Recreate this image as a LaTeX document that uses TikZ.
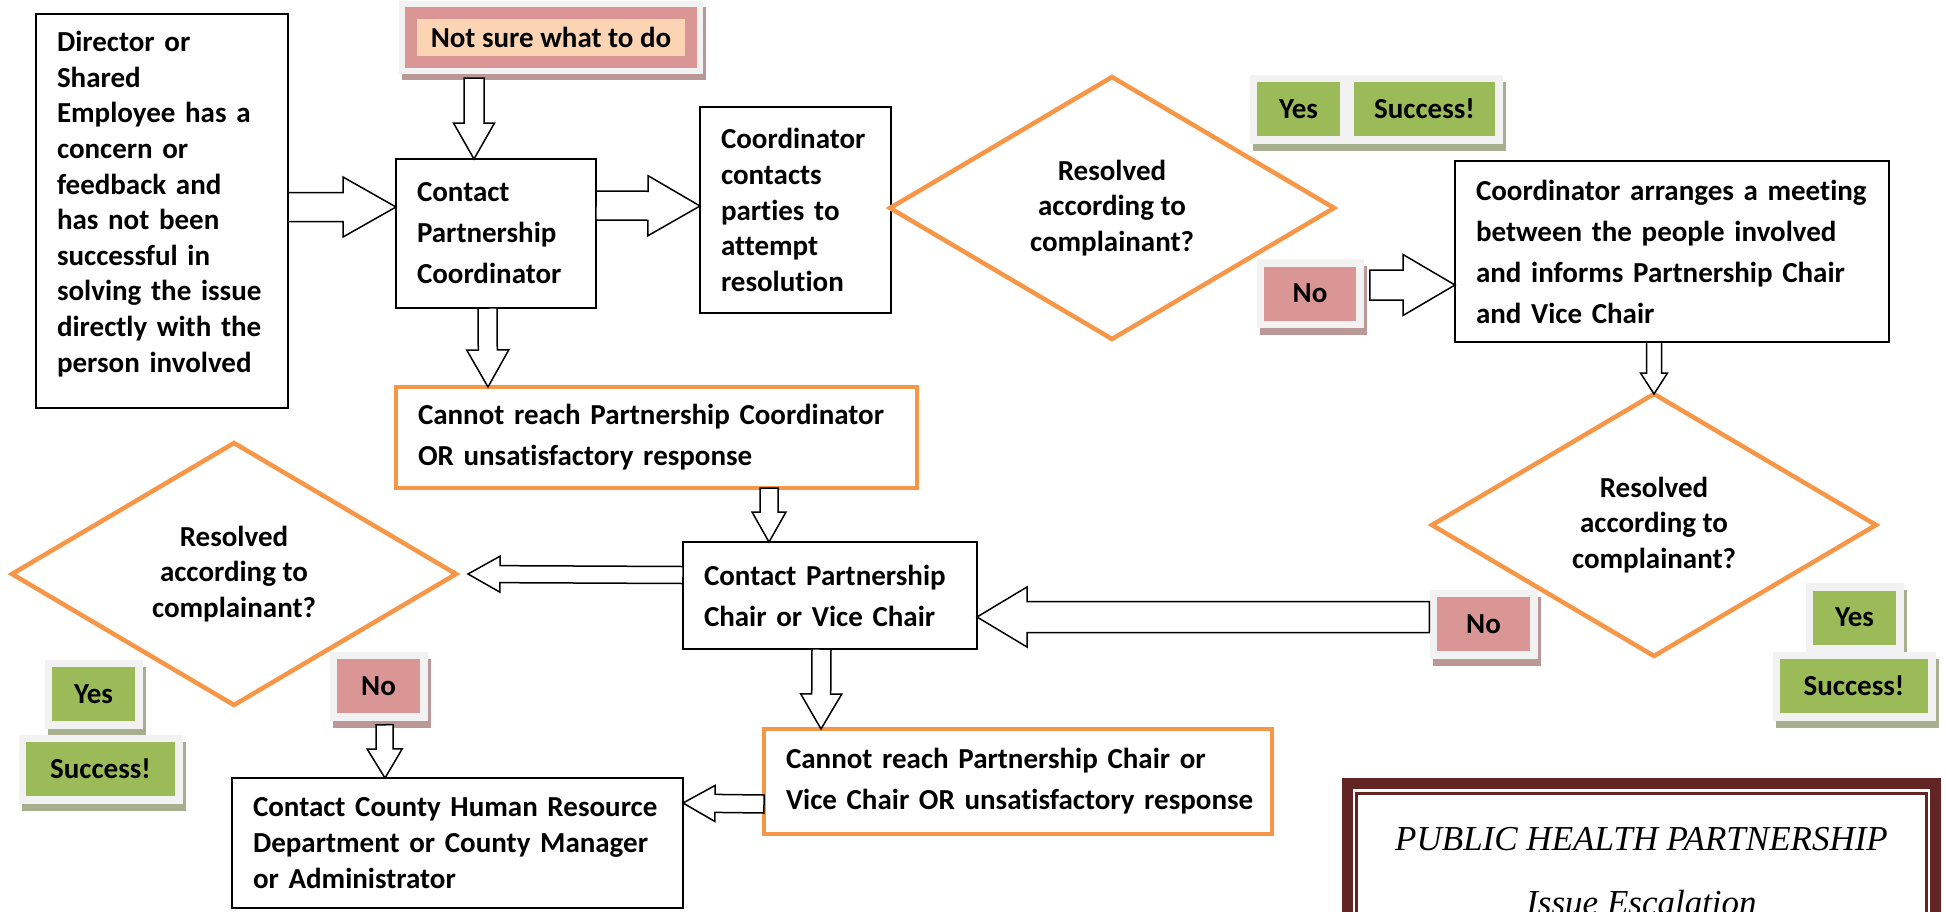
\documentclass[tikz,border=0pt]{standalone}
\usepackage{fontspec}
\setmainfont{Carlito}[Ligatures=NoCommon]
\newfontfamily\titlefont{Liberation Serif}
\usetikzlibrary{shapes.geometric}
\usetikzlibrary{shadows}
\usetikzlibrary{positioning}
\usetikzlibrary{calc}

\definecolor{okgreen}{HTML}{9BBB59}
\definecolor{nopink}{HTML}{D99694}
\definecolor{peach}{HTML}{FBD4B4}
\definecolor{framegray}{HTML}{F2F2F2}
\definecolor{greenshadow}{HTML}{A7AF8E}
\definecolor{pinkshadow}{HTML}{BA9898}
\definecolor{orangeline}{HTML}{F79646}
\definecolor{maroon}{HTML}{632523}

\newcommand{\flowfont}{\fontsize{29}{35.6}\selectfont\bfseries}
\newcommand{\flowfontwide}{\fontsize{29}{41}\selectfont\bfseries}

% hollow block arrow: start, tip, shaft half width, head half width, head length
\newcommand{\blockarrow}[5]{%
  \coordinate (ba-s) at (#1);
  \coordinate (ba-t) at (#2);
  \coordinate (ba-h) at ($(ba-t)!#5!(ba-s)$);
  \draw[block arrow] ($(ba-s)!#3!90:(ba-t)$) -- ($(ba-h)!#3!90:(ba-t)$)
    -- ($(ba-h)!#4!90:(ba-t)$) -- (ba-t) -- ($(ba-h)!#4!-90:(ba-t)$)
    -- ($(ba-h)!#3!-90:(ba-t)$) -- ($(ba-s)!#3!-90:(ba-t)$) -- cycle;}

\begin{document}
\begin{tikzpicture}[x=1pt,y=-1pt,
	step node/.style={draw, line width=2pt, outer sep=0pt, inner xsep=21pt, inner ysep=0pt, align=left, font=\flowfont},
	wide/.style={font=\flowfontwide},
	warn node/.style={step node, draw=orangeline, line width=4.5pt, inner xsep=22pt},
	decision/.style={diamond, draw=orangeline, line width=4.5pt, outer sep=0pt, inner sep=0pt, aspect=1.7,
		minimum width=444pt, minimum height=262pt, align=center, font=\flowfont},
	label box/.style={draw=framegray, line width=7.5pt, outer sep=0pt, inner sep=0pt, minimum height=61.5pt, font=\flowfont},
	yes box/.style={label box, fill=okgreen, drop shadow={shadow xshift=3pt, shadow yshift=-7pt, opacity=1,
		fill=greenshadow, draw=greenshadow, line width=7.5pt}},
	no box/.style={label box, fill=nopink, drop shadow={shadow xshift=3pt, shadow yshift=-7pt, opacity=1,
		fill=pinkshadow, draw=pinkshadow, line width=7.5pt}},
	unsure box/.style={draw=nopink, line width=12pt, fill=peach, outer sep=0pt, inner sep=0pt,
		minimum width=280pt, minimum height=49pt, font=\flowfont,
		drop shadow={shadow xshift=3pt, shadow yshift=-6pt, opacity=1, fill=pinkshadow, draw=pinkshadow, line width=24pt},
		preaction={draw=framegray, line width=24pt}},
	title frame/.style={draw=maroon, line width=11pt, outer sep=0pt, minimum width=588pt, minimum height=173pt},
	title text/.style={font=\titlefont\itshape\fontsize{35}{42}\selectfont, inner sep=0pt},
	block arrow/.style={draw=black, fill=white, line width=1.5pt, line join=miter}]

	\useasboundingbox (0,0) rectangle (1946,911);

	\node[step node, text width=210pt, minimum height=394pt] (dir) at (162,211)
		{Director or\\Shared\\Employee has a\\concern or\\feedback and\\has not been\\successful in\\solving the issue\\directly with the\\person involved\\[-17pt]\mbox{}};
	\node[unsure box] (unsure) at (551,37.5) {Not sure what to do};
	\node[step node, wide, text width=158pt, minimum height=149pt] (contact) at (496,233.5)
		{Contact\\Partnership\\Coordinator};
	\node[step node, text width=149pt, minimum height=206pt] (attempt) at (795.5,210)
		{\mbox{Coordinator}\\contacts\\parties to\\attempt\\resolution};
	\node[decision] (dia1) at (1112,208) {Resolved\\according to\\complainant?};
	\node[yes box, minimum width=90.5pt] (yes1) at (1298.5,109) {Yes};
	\node[yes box, minimum width=148.5pt, right=6.5pt of yes1] (success1) {Success!};
	\node[no box, minimum width=99.5pt] (no1) at (1310,293.5) {No};
	\node[step node, wide, text width=392pt, minimum height=181pt] (meeting) at (1672,251.5)
		{\mbox{Coordinator arranges a meeting}\\between the people involved\\and informs Partnership Chair\\and Vice Chair};
	\node[decision] (dia2) at (1654,525) {Resolved\\according to\\complainant?};
	\node[no box, minimum width=100.5pt] (no2) at (1483.5,624) {No};
	\node[yes box, minimum width=90.5pt] (yes2) at (1854.5,617.5) {Yes};
	\node[yes box, minimum width=155.5pt, below=7pt of yes2, xshift=-0.5pt] (success2) {Success!};
	\node[warn node, wide, text width=477pt, minimum height=101pt] (reach1) at (656.5,437.5)
		{\mbox{Cannot reach Partnership Coordinator}\\OR unsatisfactory response};
	\node[step node, wide, text width=252pt, minimum height=107pt] (chair) at (830,595.5)
		{Contact Partnership\\Chair or Vice Chair};
	\node[decision] (dia3) at (234,574) {Resolved\\according to\\complainant?};
	\node[yes box, minimum width=90.5pt] (yes3) at (93.5,694) {Yes};
	\node[yes box, minimum width=156.5pt, below=13.5pt of yes3, xshift=7pt] (success3) {Success!};
	\node[no box, minimum width=90.5pt] (no3) at (378.5,686) {No};
	\node[step node, text width=409pt, minimum height=130pt] (hr) at (457.5,843)
		{\mbox{Contact County Human Resource}\\Department or County Manager\\or Administrator};
	\node[warn node, wide, text width=464pt, minimum height=105pt] (reach2) at (1018,781.5)
		{Cannot reach Partnership Chair or\\\mbox{Vice Chair OR unsatisfactory response}};

	\node[title frame] (titlebox) at (1641.5,870) {};
	\draw[maroon, line width=3pt] ([shift={(9pt,-10pt)}]titlebox.north west) rectangle ([shift={(-9pt,9pt)}]titlebox.south east);
	\node[title text, anchor=base] (titleA) at ([yshift=-66.5pt]titlebox.north) {PUBLIC HEALTH PARTNERSHIP};
	\node[title text, anchor=base] (titleB) at ([yshift=-64pt]titleA.base) {Issue Escalation};

	\blockarrow{[yshift=4pt]dir.east}{[yshift=26.5pt]contact.west}{14.5pt}{30pt}{53pt}
	\blockarrow{[xshift=-77pt,yshift=-16pt]unsure.south}{[xshift=-22pt]contact.north}{10pt}{20.5pt}{36pt}
	\blockarrow{[yshift=28pt]contact.east}{[yshift=4pt]attempt.west}{14.5pt}{30pt}{52pt}
	\blockarrow{[xshift=-8.5pt]contact.south}{[xshift=-168.5pt]reach1.north}{9.5pt}{21pt}{37pt}
	\blockarrow{[xshift=10pt,yshift=8.5pt]no1.east}{[yshift=-33.5pt]meeting.west}{15pt}{30.5pt}{52pt}
	\blockarrow{[xshift=-18pt]meeting.south}{dia2.north}{7.5pt}{13.5pt}{21pt}
	\blockarrow{[xshift=112.5pt]reach1.south}{[xshift=-61pt]chair.north}{9pt}{17pt}{30pt}
	\blockarrow{[yshift=20.5pt]chair.west}{[xshift=12pt]dia3.east}{8.5pt}{18pt}{32pt}
	\blockarrow{[xshift=-4pt,yshift=7pt]no2.west}{[yshift=-21.5pt]chair.east}{15.5pt}{30pt}{50pt}
	\blockarrow{[xshift=-8.5pt]chair.south}{[xshift=-197pt]reach2.north}{9.5pt}{20.5pt}{35pt}
	\blockarrow{[xshift=6pt,yshift=-8pt]no3.south}{[xshift=-72.5pt]hr.north}{8.5pt}{17.5pt}{29pt}
	\blockarrow{[yshift=-22.5pt]reach2.west}{[yshift=40pt]hr.east}{9pt}{18pt}{32pt}
\end{tikzpicture}
\end{document}
